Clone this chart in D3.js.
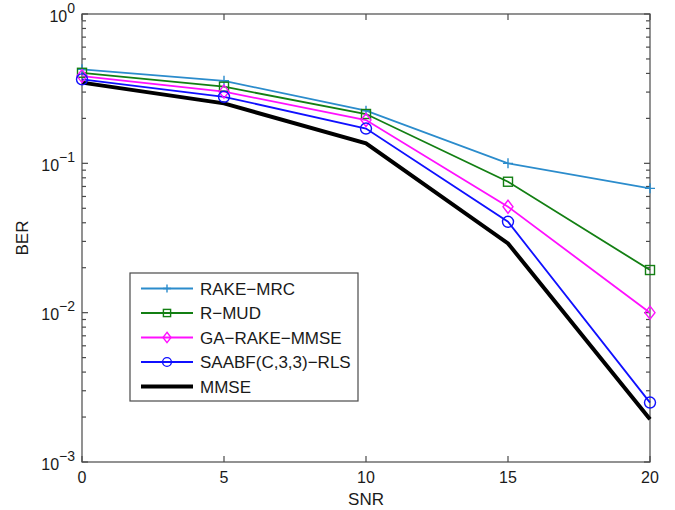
<!DOCTYPE html>
<html>
<head>
<meta charset="utf-8">
<script src="https://cdn.jsdelivr.net/npm/d3@7/dist/d3.min.js"></script>
<style>
  html, body { margin: 0; padding: 0; background: #fff; }
  svg { display: block; font-family: "Liberation Sans", Arial, Helvetica, sans-serif; }
</style>
</head>
<body>
<svg id="chart" width="675" height="510"></svg>
<script>
// SNR (dB) sample points
const snr = [0, 5, 10, 15, 20];

// BER curves per receiver
const rakeMrc   = [0.426, 0.357, 0.225, 0.100, 0.068];
const rMud      = [0.404, 0.326, 0.214, 0.0753, 0.0193];
const gaRake    = [0.384, 0.302, 0.195, 0.0512, 0.0100];
const saabf     = [0.365, 0.279, 0.171, 0.0406, 0.0025];
const mmse      = [0.347, 0.252, 0.136, 0.0291, 0.00193];

const seriesNames = ["RAKE\u2212MRC", "R\u2212MUD", "GA\u2212RAKE\u2212MMSE", "SAABF(C,3,3)\u2212RLS", "MMSE"];
const xTicks = [0, 5, 10, 15, 20];
const yExponents = [0, -1, -2, -3];

const series = [
  { name: seriesNames[0], values: rakeMrc, color: "#2b8ccc", marker: "plus",    width: 1.8 },
  { name: seriesNames[1], values: rMud,    color: "#137f13", marker: "square",  width: 1.8 },
  { name: seriesNames[2], values: gaRake,  color: "#ff10ff", marker: "diamond", width: 1.8 },
  { name: seriesNames[3], values: saabf,   color: "#1010ff", marker: "circle",  width: 1.8 },
  { name: seriesNames[4], values: mmse,    color: "#000000", marker: "none",    width: 4 }
];

const svg = d3.select("#chart");
const pL = 82, pR = 650, pT = 14, pB = 462;
const axisColor = "#4a4a4a";
const textColor = "#1a1a1a";

const x = d3.scaleLinear().domain([0, 20]).range([pL, pR]);
const y = d3.scaleLog().domain([1e-3, 1]).range([pB, pT]);

// Minor log ticks (2..9 per decade) and major decades
const minorVals = [];
for (let e = -3; e < 0; e++) for (let m = 2; m <= 9; m++) minorVals.push(m * Math.pow(10, e));
const majorVals = yExponents.map(e => Math.pow(10, e));

const axes = svg.append("g").attr("stroke", axisColor).attr("stroke-width", 1.2).attr("fill", "none");

// Plot box
axes.append("rect").attr("x", pL).attr("y", pT)
  .attr("width", pR - pL).attr("height", pB - pT);

// X ticks (bottom and top, pointing inward)
xTicks.forEach(v => {
  axes.append("line").attr("x1", x(v)).attr("x2", x(v)).attr("y1", pB).attr("y2", pB - 6);
  axes.append("line").attr("x1", x(v)).attr("x2", x(v)).attr("y1", pT).attr("y2", pT + 6);
});

// Y ticks, major and minor, both sides
majorVals.forEach(v => {
  axes.append("line").attr("x1", pL).attr("x2", pL + 6).attr("y1", y(v)).attr("y2", y(v));
  axes.append("line").attr("x1", pR).attr("x2", pR - 6).attr("y1", y(v)).attr("y2", y(v));
});
minorVals.forEach(v => {
  axes.append("line").attr("x1", pL).attr("x2", pL + 4).attr("y1", y(v)).attr("y2", y(v));
  axes.append("line").attr("x1", pR).attr("x2", pR - 4).attr("y1", y(v)).attr("y2", y(v));
});

// X tick labels
svg.append("g").selectAll("text").data(xTicks).join("text")
  .attr("x", d => x(d)).attr("y", pB + 21)
  .attr("text-anchor", "middle").attr("font-size", 16).attr("fill", textColor)
  .text(d => d);

// Y tick labels as 10 with superscript exponent
const yLab = svg.append("g").attr("fill", textColor);
yExponents.forEach(e => {
  const t = yLab.append("text").attr("x", 75).attr("y", y(Math.pow(10, e)) + 7.5)
    .attr("text-anchor", "end").attr("font-size", 16);
  t.append("tspan").text("10");
  t.append("tspan").attr("dy", -9).attr("font-size", 14).text(e === 0 ? "0" : "\u2212" + (-e));
});

// Axis titles
svg.append("text").attr("x", (pL + pR) / 2).attr("y", 505)
  .attr("text-anchor", "middle").attr("font-size", 17).attr("fill", textColor).text("SNR");
svg.append("text").attr("transform", `translate(28,${(pT + pB) / 2}) rotate(-90)`)
  .attr("text-anchor", "middle").attr("font-size", 17).attr("fill", textColor).text("BER");

// Marker drawing (k scales the glyph size)
function drawMarker(g, type, cx, cy, color, k = 1) {
  if (type === "plus") {
    g.append("path").attr("d", `M${cx - 5 * k},${cy}H${cx + 5 * k}M${cx},${cy - 5 * k}V${cy + 5 * k}`)
      .attr("stroke", color).attr("stroke-width", 1.4).attr("fill", "none");
  } else if (type === "square") {
    g.append("rect").attr("x", cx - 4.5 * k).attr("y", cy - 4.5 * k).attr("width", 9 * k).attr("height", 9 * k)
      .attr("stroke", color).attr("stroke-width", 1.4).attr("fill", "none");
  } else if (type === "diamond") {
    g.append("path").attr("d", `M${cx},${cy - 6.5 * k}L${cx + 5 * k},${cy}L${cx},${cy + 6.5 * k}L${cx - 5 * k},${cy}Z`)
      .attr("stroke", color).attr("stroke-width", 1.4).attr("fill", "none");
  } else if (type === "circle") {
    g.append("circle").attr("cx", cx).attr("cy", cy).attr("r", 5.5 * k)
      .attr("stroke", color).attr("stroke-width", 1.4).attr("fill", "none");
  }
}

const line = d3.line().x((d, i) => x(snr[i])).y(d => y(d));
const plot = svg.append("g");
series.forEach(s => {
  plot.append("path").attr("d", line(s.values))
    .attr("stroke", s.color).attr("stroke-width", s.width).attr("fill", "none")
    .attr("stroke-linejoin", "miter");
});
series.forEach(s => {
  s.values.forEach((v, i) => drawMarker(plot, s.marker, x(snr[i]), y(v), s.color));
});

// Legend
const lg = svg.append("g");
lg.append("rect").attr("x", 130).attr("y", 273).attr("width", 228).attr("height", 128)
  .attr("fill", "#fff").attr("stroke", axisColor).attr("stroke-width", 1.2);
series.forEach((s, i) => {
  const ly = 288.5 + i * 24.5;
  lg.append("line").attr("x1", 141).attr("x2", 193).attr("y1", ly).attr("y2", ly)
    .attr("stroke", s.color).attr("stroke-width", s.width);
  drawMarker(lg, s.marker, 167, ly, s.color, 0.8);
  lg.append("text").attr("x", 200).attr("y", ly + 6).attr("font-size", 17)
    .attr("fill", textColor).text(s.name);
});
</script>
</body>
</html>
